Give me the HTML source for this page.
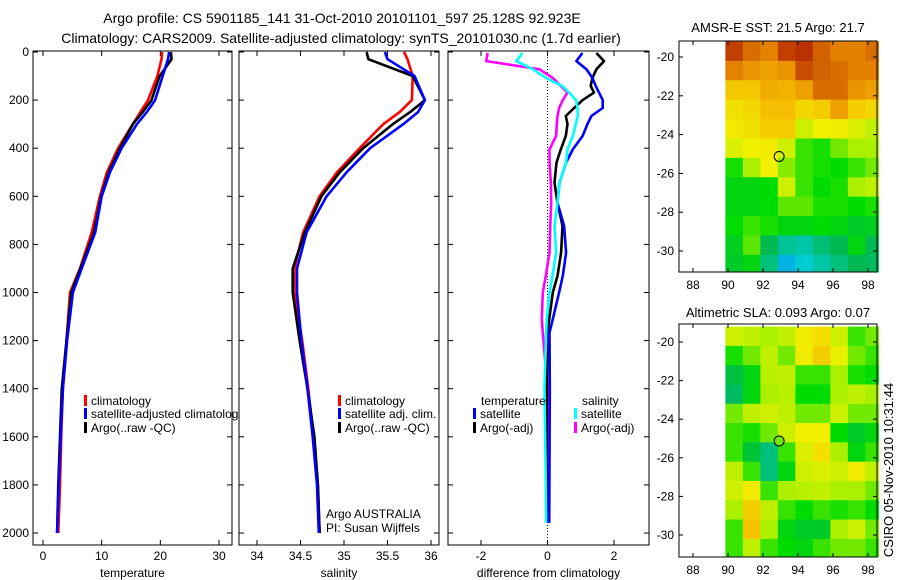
<!DOCTYPE html>
<html><head><meta charset="utf-8">
<style>
html,body{margin:0;padding:0;background:#fff;}
svg{display:block;font-family:"Liberation Sans",sans-serif;}
text{font-size:12px;fill:#000;}
.ttl{font-size:14px;}
.mt{font-size:13px;}
</style></head>
<body>
<svg id="chart" width="900" height="580" viewBox="0 0 900 580" xmlns="http://www.w3.org/2000/svg">
<text class="ttl" x="342" y="23" text-anchor="middle">Argo profile: CS 5901185_141 31-Oct-2010 20101101_597 25.128S 92.923E</text>
<text class="ttl" x="341" y="43" text-anchor="middle">Climatology: CARS2009. Satellite-adjusted climatology: synTS_20101030.nc (1.7d earlier)</text>
<text class="mt" x="778" y="32" text-anchor="middle">AMSR-E SST: 21.5 Argo: 21.7</text>
<text class="mt" x="778" y="317" text-anchor="middle">Altimetric SLA: 0.093 Argo: 0.07</text>
<text class="mt" transform="translate(893,470) rotate(-90)" text-anchor="middle">CSIRO 05-Nov-2010 10:31:44</text>
<g id="plots"></g>
</svg>
<script>
// ---- depth-profile data ----
const depthsUpper = [0, 30, 100, 200, 250, 300, 400, 500, 600, 750, 900, 1000];
const depthsDeep = [1000, 1200, 1400, 1600, 1800, 2000];
const tempClim = [20.3, 20.2, 19.5, 17.9, 16.6, 15.3, 12.8, 10.9, 9.7, 8.3, 6.3, 4.6, 4.0, 3.4, 3.1, 2.9, 2.6];
const tempSat  = [21.5, 21.3, 20.4, 19.1, 17.7, 16.0, 13.4, 11.4, 10.0, 8.9, 6.6, 5.1, 4.1, 3.4, 3.0, 2.7, 2.4];
const tempArgo = [21.8, 21.9, 19.9, 18.5, 17.0, 15.3, 13.1, 11.2, 9.9, 8.7, 6.4, 4.8, 4.0, 3.2, 2.9, 2.6, 2.4];
const salClim = [35.69, 35.73, 35.79, 35.78, 35.64, 35.45, 35.18, 34.92, 34.72, 34.53, 34.43, 34.43, 34.52, 34.59, 34.65, 34.70, 34.72];
const salSat  = [35.47, 35.5, 35.81, 35.93, 35.85, 35.68, 35.3, 35.03, 34.8, 34.57, 34.46, 34.46, 34.51, 34.58, 34.64, 34.69, 34.71];
const salArgo = [35.26, 35.28, 35.79, 35.93, 35.76, 35.56, 35.22, 34.95, 34.74, 34.55, 34.41, 34.41, 34.49, 34.58, 34.66, 34.70, 34.72];
// ---- difference data ----
const diffDepths = [4, 38, 72, 108, 141, 169, 200, 233, 266, 300, 349, 405, 460, 543, 627, 723, 834, 931, 1000, 1111, 1166, 1400, 1700, 1958];
const dTempSat  = [1.05, 0.87, 1.17, 1.35, 1.45, 1.55, 1.66, 1.66, 1.32, 1.2, 1.06, 0.76, 0.56, 0.36, 0.3, 0.5, 0.56, 0.46, 0.35, 0.16, 0.06, 0.07, 0.06, 0.05];
const dTempArgo = [1.47, 1.7, 1.47, 1.35, 1.3, 1.4, 1.06, 0.8, 0.55, 0.6, 0.55, 0.4, 0.27, 0.21, 0.3, 0.45, 0.41, 0.3, 0.16, 0.05, 0.0, -0.02, -0.03, 0.0];
const dSalSat   = [-0.75, -0.94, -0.44, -0.04, 0.44, 0.65, 0.86, 0.9, 0.91, 0.85, 0.76, 0.6, 0.56, 0.36, 0.3, 0.21, 0.26, 0.15, 0.06, -0.02, -0.04, -0.09, -0.06, -0.04];
const dSalArgo  = [-1.8, -1.84, -0.24, 0.16, 0.4, 0.6, 0.46, 0.35, 0.3, 0.28, 0.26, 0.06, 0.06, 0.1, 0.11, 0.08, 0.06, -0.05, -0.14, -0.17, -0.14, 0.0, 0.02, 0.03];
// ---- tick labels ----
const depthTicks = [0, 200, 400, 600, 800, 1000, 1200, 1400, 1600, 1800, 2000];
const tempTicks = [0, 10, 20, 30];
const salTicks = [34, 34.5, 35, 35.5, 36];
const diffTicks = [-2, 0, 2];
const lonTicks = [88, 90, 92, 94, 96, 98];
const latTicks = [-20, -22, -24, -26, -28, -30];
// ---- map grids (normalized colour value), rows from north (-19.2) south, cols lon 90..98.5 (1 deg) ----
const sstGrid = [
[0.95,0.88,0.85,0.95,0.97,0.9,0.85,0.85,0.88],
[0.85,0.82,0.8,0.82,0.93,0.9,0.88,0.85,0.85],
[0.73,0.73,0.78,0.77,0.8,0.88,0.88,0.82,0.8],
[0.68,0.7,0.75,0.75,0.7,0.72,0.8,0.72,0.7],
[0.66,0.68,0.72,0.72,0.6,0.65,0.66,0.62,0.58],
[0.62,0.65,0.66,0.6,0.45,0.42,0.5,0.55,0.55],
[0.42,0.55,0.65,0.52,0.45,0.42,0.4,0.45,0.5],
[0.38,0.38,0.4,0.6,0.45,0.4,0.42,0.55,0.58],
[0.38,0.38,0.4,0.48,0.48,0.42,0.42,0.4,0.42],
[0.4,0.45,0.42,0.38,0.38,0.4,0.38,0.35,0.36],
[0.36,0.48,0.3,0.22,0.2,0.26,0.3,0.38,0.3],
[0.35,0.38,0.25,0.1,0.15,0.2,0.25,0.3,0.28]];
const slaGrid = [
[0.6,0.58,0.55,0.58,0.66,0.68,0.6,0.45,0.5],
[0.42,0.5,0.58,0.5,0.66,0.72,0.64,0.5,0.45],
[0.32,0.38,0.57,0.58,0.45,0.45,0.55,0.42,0.4],
[0.28,0.38,0.55,0.57,0.4,0.4,0.55,0.58,0.55],
[0.5,0.58,0.6,0.58,0.5,0.5,0.6,0.5,0.5],
[0.45,0.42,0.5,0.6,0.65,0.65,0.4,0.35,0.38],
[0.45,0.33,0.25,0.45,0.62,0.68,0.55,0.38,0.45],
[0.58,0.45,0.25,0.38,0.6,0.62,0.6,0.66,0.58],
[0.6,0.66,0.45,0.55,0.57,0.58,0.55,0.55,0.5],
[0.55,0.72,0.58,0.45,0.4,0.45,0.42,0.45,0.4],
[0.45,0.74,0.55,0.38,0.35,0.35,0.55,0.6,0.5],
[0.45,0.58,0.45,0.4,0.38,0.45,0.5,0.5,0.45]];
const argoLon = 92.923, argoLat = -25.128;

const NS = "http://www.w3.org/2000/svg";
const root = document.getElementById('plots');
function mk(tag, attrs, parent) {
  const e = document.createElementNS(NS, tag);
  for (const k in attrs) e.setAttribute(k, attrs[k]);
  (parent || root).appendChild(e);
  return e;
}
function lin(d0, d1, r0, r1) { return v => r0 + (v - d0) * (r1 - r0) / (d1 - d0); }
const yDepth = lin(0, 2000, 52, 533);

function panel(name, x0, x1, xs, ticks, xlabel, showDepth) {
  const g = mk('g', {});
  
  
  const box = mk('rect', {x: x0, y: 51, width: x1 - x0, height: 494, fill: 'none', stroke: '#000', 'stroke-width': 1}, g);
  
  
  ticks.forEach(t => {
    const x = xs(t);
    mk('line', {x1: x, x2: x, y1: 545, y2: 540, stroke: '#000'}, g);
    mk('line', {x1: x, x2: x, y1: 51, y2: 56, stroke: '#000'}, g);
    const tl = mk('text', {x: x, y: 560, 'text-anchor': 'middle'}, g);
    tl.textContent = t;
    
    
  });
  depthTicks.forEach(d => {
    const y = yDepth(d);
    mk('line', {x1: x0, x2: x0 + 5, y1: y, y2: y, stroke: '#000'}, g);
    mk('line', {x1: x1, x2: x1 - 5, y1: y, y2: y, stroke: '#000'}, g);
    if (showDepth) {
      const tl = mk('text', {x: x0 - 4, y: y + 4, 'text-anchor': 'end'}, g);
      tl.textContent = d;
      
      
    }
  });
  const xl = mk('text', {x: (x0 + x1) / 2, y: 577, 'text-anchor': 'middle'}, g);
  xl.textContent = xlabel;
  
  
  return g;
}
function series(g, name, depths, vals, xs, color) {
  const pts = depths.map((d, i) => xs(vals[i]).toFixed(1) + ',' + yDepth(d).toFixed(1)).join(' ');
  const p = mk('polyline', {points: pts, fill: 'none', stroke: color, 'stroke-width': 2.6, 'stroke-linejoin': 'round'}, g);
  
  
}
function legend(g, x, y, color, label, name) {
  if (color) mk('rect', {x: x, y: y - 10, width: 3, height: 11, fill: color}, g);
  const t = mk('text', {x: x + 7, y: y}, g);
  t.textContent = label;
  
  
}
const allDepths = depthsUpper.concat(depthsDeep.slice(1));

// Temperature panel
const xT = lin(0, 30, 43, 219);
const gT = panel('temperature-panel', 33, 232, xT, tempTicks, 'temperature', true);
series(gT, 'temp-climatology-line', allDepths, tempClim, xT, '#ff0000');
series(gT, 'temp-argo-line', allDepths, tempArgo, xT, '#000000');
series(gT, 'temp-satellite-line', allDepths, tempSat, xT, '#0000ff');
legend(gT, 84, 405, '#ff0000', 'climatology', 'legend-entry-climatology');
legend(gT, 84, 418, '#0000ff', 'satellite-adjusted climatolog', 'legend-entry-satellite');
legend(gT, 84, 432, '#000000', 'Argo(..raw -QC)', 'legend-entry-argo');

// Salinity panel
const xS = lin(34, 36, 257, 431);
const gS = panel('salinity-panel', 239, 439, xS, salTicks, 'salinity', false);
series(gS, 'sal-climatology-line', allDepths, salClim, xS, '#ff0000');
series(gS, 'sal-argo-line', allDepths, salArgo, xS, '#000000');
series(gS, 'sal-satellite-line', allDepths, salSat, xS, '#0000ff');
legend(gS, 338, 405, '#ff0000', 'climatology', 'legend-entry-climatology');
legend(gS, 338, 418, '#0000ff', 'satellite adj. clim.', 'legend-entry-satellite');
legend(gS, 338, 432, '#000000', 'Argo(..raw -QC)', 'legend-entry-argo');
legend(gS, 319, 518, null, 'Argo AUSTRALIA', 'float-owner-label');
legend(gS, 319, 532, null, 'PI: Susan Wijffels', 'pi-label');

// Difference panel
const xD = lin(-2, 2, 481, 614);
const gD = panel('difference-panel', 448, 649, xD, diffTicks, 'difference from climatology', false);
const zl = mk('line', {x1: xD(0), x2: xD(0), y1: 51, y2: 545, stroke: '#000', 'stroke-dasharray': '1,2'}, gD);


series(gD, 'diff-sal-argo-line', diffDepths, dSalArgo, xD, '#ff00ff');
series(gD, 'diff-temp-argo-line', diffDepths, dTempArgo, xD, '#000000');
series(gD, 'diff-temp-satellite-line', diffDepths, dTempSat, xD, '#0000ff');
series(gD, 'diff-sal-satellite-line', diffDepths, dSalSat, xD, '#00ffff');
legend(gD, 474, 405, null, 'temperature', 'legend-title-temperature');
legend(gD, 473, 418, '#0000ff', 'satellite', 'legend-entry-temp-satellite');
legend(gD, 473, 432, '#000000', 'Argo(-adj)', 'legend-entry-temp-argo');
legend(gD, 575, 405, null, 'salinity', 'legend-title-salinity');
legend(gD, 574, 418, '#00ffff', 'satellite', 'legend-entry-sal-satellite');
legend(gD, 574, 432, '#ff00ff', 'Argo(-adj)', 'legend-entry-sal-argo');

// colormap
const cmapStops = [[0,[0,128,255]],[0.15,[0,205,210]],[0.3,[0,185,80]],[0.4,[0,220,0]],[0.55,[170,240,0]],[0.65,[240,240,0]],[0.75,[245,190,0]],[0.85,[228,130,0]],[1,[175,30,0]]];
function cmap(v) {
  v = Math.max(0, Math.min(1, v));
  for (let i = 1; i < cmapStops.length; i++) {
    if (v <= cmapStops[i][0]) {
      const [a, ca] = cmapStops[i-1], [b, cb] = cmapStops[i];
      const f = (v - a) / (b - a);
      return 'rgb(' + ca.map((c, k) => Math.round(c + (cb[k] - c) * f)).join(',') + ')';
    }
  }
  return 'rgb(175,30,0)';
}
function mapPanel(name, top, bottom, lat20, lat30, grid, fillCircle) {
  const g = mk('g', {});
  
  
  const xm = lin(88, 98, 693, 868);
  const ym = lin(-20, -30, lat20, lat30);
  const latTop = -19.2;
  grid.forEach((row, r) => {
    row.forEach((v, c) => {
      const lon0 = 89.85 + c, lon1 = Math.min(98.6, lon0 + 1);
      const la0 = latTop - r, la1 = Math.max(-31.2, la0 - 1);
      const x = xm(lon0), y = Math.max(top, ym(la0));
      const cell = mk('rect', {x: x, y: y, width: xm(lon1) - x + 0.5, height: Math.min(bottom, ym(la1)) - y + 0.5, fill: cmap(v)}, g);
      
      
    });
  });
  const fr = mk('rect', {x: 679, y: top, width: 198, height: bottom - top, fill: 'none', stroke: '#000'}, g);
  
  
  lonTicks.forEach(t => {
    const x = xm(t);
    mk('line', {x1: x, x2: x, y1: bottom, y2: bottom - 4, stroke: '#000'}, g);
    mk('line', {x1: x, x2: x, y1: top, y2: top + 4, stroke: '#000'}, g);
    const tl = mk('text', {x: x, y: bottom + 17, 'text-anchor': 'middle'}, g);
    tl.textContent = t;
    
    
  });
  latTicks.forEach(t => {
    const y = ym(t);
    mk('line', {x1: 679, x2: 683, y1: y, y2: y, stroke: '#000'}, g);
    mk('line', {x1: 877, x2: 873, y1: y, y2: y, stroke: '#000'}, g);
    const tl = mk('text', {x: 674, y: y + 4, 'text-anchor': 'end'}, g);
    tl.textContent = t;
    
    
  });
  const c = mk('circle', {cx: xm(argoLon), cy: ym(argoLat), r: 5, fill: fillCircle || 'none', stroke: '#000', 'stroke-width': 1}, g);
  
  
}
mapPanel('sst-map', 41, 272, 57, 251, sstGrid, null);
mapPanel('sla-map', 324, 557, 342, 535, slaGrid, cmap(0.5));
</script>
</body></html>
